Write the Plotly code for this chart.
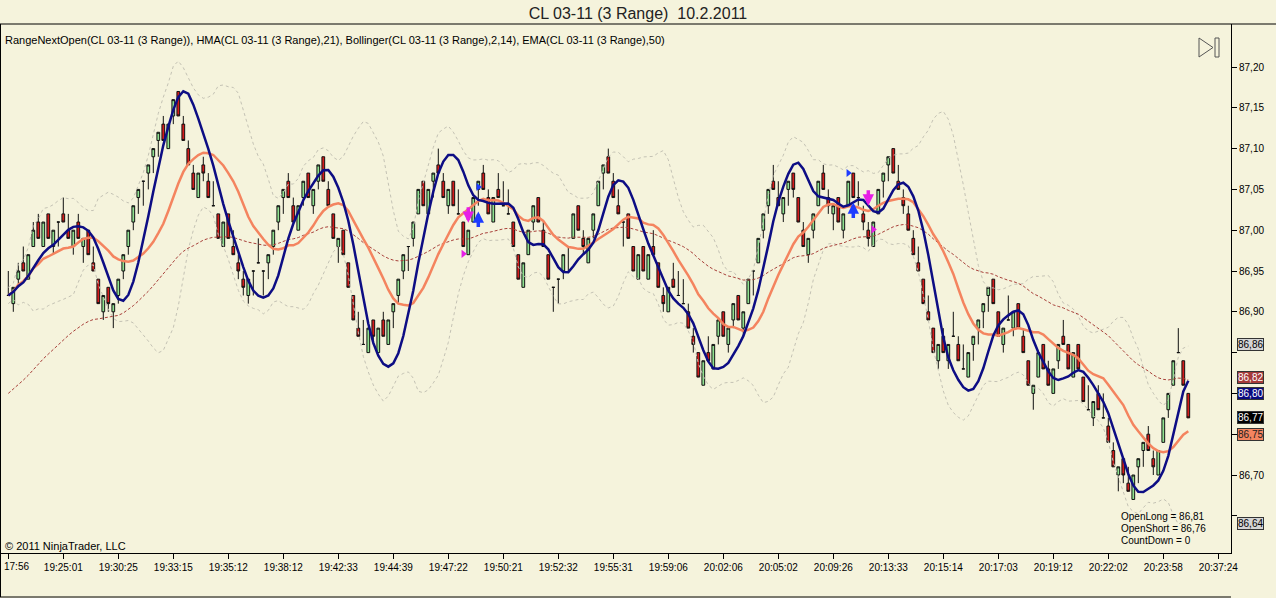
import numpy as np
import pandas as pd
import plotly.graph_objects as go

# Range bars (3 ticks), one value per bar, left to right
opens = [
    86.92, 86.91, 86.94, 86.96, 86.94, 86.98, 87.01, 86.98, 87.02, 86.98,
    87.01, 87.02, 87.00, 86.98, 87.01, 86.98, 87.00, 86.96, 86.94, 86.90,
    86.93, 86.90, 86.92, 86.95, 86.98, 87.01, 87.04, 87.06, 87.07, 87.09,
    87.11, 87.13, 87.10, 87.14, 87.17, 87.13, 87.10, 87.07, 87.04, 87.08,
    87.06, 87.03, 87.02, 86.98, 87.02, 86.98, 86.96, 86.94, 86.92, 86.95,
    86.96, 86.95, 86.96, 86.98, 87.01, 87.04, 87.06, 87.03, 87.00, 87.04,
    87.07, 87.03, 87.06, 87.09, 87.05, 87.02, 86.98, 87.00, 86.96, 86.92,
    86.88, 86.86, 86.85, 86.89, 86.85, 86.89, 86.86, 86.90, 86.92, 86.95,
    86.98, 86.99, 87.02, 87.06, 87.02, 87.06, 87.08, 87.06, 87.03, 87.06,
    87.02, 87.01, 86.97, 87.01, 87.05, 87.07, 87.04, 87.01, 87.05, 87.03,
    87.02, 87.01, 86.97, 86.93, 86.97, 87.01, 87.04, 87.00, 86.97, 86.93,
    86.94, 86.95, 86.98, 86.99, 87.03, 86.99, 86.96, 87.00, 87.03, 87.07,
    87.09, 87.06, 87.03, 87.01, 87.02, 86.98, 86.94, 86.98, 86.94, 86.98,
    86.96, 86.92, 86.90, 86.94, 86.92, 86.91, 86.90, 86.87, 86.85, 86.81,
    86.85, 86.83, 86.87, 86.90, 86.86, 86.89, 86.92, 86.88, 86.91, 86.95,
    86.96, 87.00, 87.03, 87.06, 87.04, 87.02, 87.05, 87.07, 87.04, 87.00,
    86.97, 87.00, 87.03, 87.07, 87.04, 87.02, 87.04, 87.00, 87.03, 87.07,
    87.04, 87.02, 87.00, 86.98, 87.02, 87.06, 87.08, 87.10, 87.06, 87.04,
    87.02, 86.99, 86.96, 86.94, 86.90, 86.88, 86.84, 86.87, 86.84, 86.87,
    86.86, 86.83, 86.82, 86.86, 86.88, 86.90, 86.92, 86.94, 86.90, 86.86,
    86.89, 86.88, 86.91, 86.87, 86.84, 86.80, 86.82, 86.86, 86.83, 86.80,
    86.84, 86.87, 86.86, 86.82, 86.86, 86.82, 86.78, 86.77, 86.80, 86.77,
    86.76, 86.73, 86.70, 86.72, 86.69, 86.67, 86.71, 86.73, 86.75, 86.72,
    86.70, 86.74, 86.78, 86.81, 86.85, 86.84, 86.80,
]
highs = [
    86.95, 86.93, 86.96, 86.98, 86.97, 87.01, 87.02, 87.01, 87.02, 87.00,
    87.01, 87.04, 87.02, 87.00, 87.02, 86.99, 87.00, 86.98, 86.94, 86.92,
    86.93, 86.91, 86.94, 86.97, 87.00, 87.03, 87.05, 87.06, 87.08, 87.10,
    87.12, 87.14, 87.13, 87.16, 87.17, 87.14, 87.11, 87.08, 87.07, 87.09,
    87.07, 87.06, 87.02, 87.01, 87.02, 87.00, 86.97, 86.95, 86.94, 86.95,
    86.99, 86.95, 86.97, 87.00, 87.03, 87.05, 87.07, 87.04, 87.03, 87.06,
    87.07, 87.05, 87.08, 87.09, 87.06, 87.02, 86.99, 87.00, 86.96, 86.92,
    86.90, 86.89, 86.88, 86.89, 86.88, 86.90, 86.89, 86.91, 86.94, 86.97,
    86.98, 87.01, 87.05, 87.06, 87.05, 87.07, 87.10, 87.07, 87.05, 87.06,
    87.05, 87.01, 87.00, 87.04, 87.06, 87.08, 87.05, 87.04, 87.07, 87.06,
    87.05, 87.01, 86.97, 86.96, 87.00, 87.03, 87.04, 87.01, 86.97, 86.93,
    86.94, 86.97, 86.98, 87.02, 87.03, 87.00, 86.99, 87.02, 87.06, 87.08,
    87.10, 87.07, 87.05, 87.01, 87.02, 86.98, 86.97, 86.98, 86.97, 87.00,
    86.96, 86.93, 86.93, 86.96, 86.95, 86.94, 86.91, 86.88, 86.85, 86.84,
    86.87, 86.86, 86.89, 86.90, 86.88, 86.91, 86.92, 86.90, 86.94, 86.95,
    86.99, 87.02, 87.05, 87.08, 87.06, 87.04, 87.06, 87.07, 87.04, 87.01,
    86.99, 87.02, 87.06, 87.08, 87.05, 87.03, 87.04, 87.02, 87.06, 87.07,
    87.06, 87.03, 87.01, 87.01, 87.05, 87.07, 87.09, 87.10, 87.08, 87.05,
    87.03, 87.00, 86.98, 86.94, 86.92, 86.88, 86.86, 86.88, 86.86, 86.90,
    86.87, 86.86, 86.85, 86.87, 86.89, 86.91, 86.93, 86.94, 86.90, 86.88,
    86.92, 86.90, 86.91, 86.88, 86.84, 86.81, 86.85, 86.86, 86.84, 86.83,
    86.86, 86.89, 86.86, 86.85, 86.86, 86.82, 86.81, 86.79, 86.81, 86.80,
    86.77, 86.74, 86.71, 86.72, 86.71, 86.70, 86.72, 86.74, 86.76, 86.73,
    86.73, 86.77, 86.80, 86.84, 86.88, 86.84, 86.80,
]
lows = [
    86.92, 86.90, 86.93, 86.95, 86.94, 86.98, 86.99, 86.98, 86.99, 86.97,
    86.98, 87.01, 86.99, 86.97, 86.99, 86.96, 86.97, 86.95, 86.91, 86.89,
    86.90, 86.88, 86.91, 86.94, 86.97, 87.00, 87.02, 87.03, 87.05, 87.07,
    87.09, 87.11, 87.10, 87.13, 87.14, 87.11, 87.08, 87.05, 87.04, 87.06,
    87.04, 87.03, 86.99, 86.98, 86.99, 86.97, 86.94, 86.92, 86.91, 86.92,
    86.96, 86.92, 86.94, 86.97, 87.00, 87.02, 87.04, 87.01, 87.00, 87.03,
    87.04, 87.02, 87.05, 87.06, 87.03, 86.99, 86.96, 86.97, 86.93, 86.89,
    86.87, 86.86, 86.85, 86.86, 86.85, 86.87, 86.86, 86.88, 86.91, 86.94,
    86.95, 86.98, 87.02, 87.03, 87.02, 87.04, 87.07, 87.04, 87.02, 87.03,
    87.02, 86.98, 86.97, 87.01, 87.03, 87.05, 87.02, 87.01, 87.04, 87.03,
    87.02, 86.98, 86.94, 86.93, 86.97, 87.00, 87.01, 86.98, 86.94, 86.90,
    86.91, 86.94, 86.95, 86.99, 87.00, 86.97, 86.96, 86.99, 87.03, 87.05,
    87.07, 87.04, 87.02, 86.98, 86.99, 86.95, 86.94, 86.95, 86.94, 86.97,
    86.93, 86.90, 86.90, 86.93, 86.92, 86.91, 86.88, 86.85, 86.82, 86.81,
    86.84, 86.83, 86.86, 86.87, 86.85, 86.88, 86.89, 86.87, 86.91, 86.92,
    86.96, 86.99, 87.02, 87.05, 87.03, 87.01, 87.03, 87.04, 87.01, 86.98,
    86.96, 86.99, 87.03, 87.05, 87.02, 87.00, 87.01, 86.99, 87.03, 87.04,
    87.03, 87.00, 86.98, 86.98, 87.02, 87.04, 87.06, 87.07, 87.05, 87.02,
    87.00, 86.97, 86.95, 86.91, 86.89, 86.85, 86.83, 86.85, 86.83, 86.87,
    86.84, 86.83, 86.82, 86.84, 86.86, 86.88, 86.90, 86.91, 86.87, 86.85,
    86.89, 86.87, 86.88, 86.85, 86.81, 86.78, 86.82, 86.83, 86.81, 86.80,
    86.83, 86.86, 86.83, 86.82, 86.83, 86.79, 86.78, 86.76, 86.78, 86.77,
    86.74, 86.71, 86.68, 86.69, 86.68, 86.67, 86.69, 86.71, 86.73, 86.70,
    86.70, 86.74, 86.77, 86.81, 86.85, 86.81, 86.77,
]
closes = [
    86.92, 86.93, 86.95, 86.95, 86.97, 87.00, 86.99, 87.01, 86.99, 87.00,
    87.01, 87.01, 86.99, 87.00, 86.99, 86.99, 86.97, 86.95, 86.91, 86.92,
    86.91, 86.91, 86.94, 86.97, 87.00, 87.03, 87.05, 87.06, 87.08, 87.10,
    87.12, 87.11, 87.13, 87.16, 87.14, 87.11, 87.08, 87.05, 87.07, 87.07,
    87.04, 87.03, 86.99, 87.01, 86.99, 86.97, 86.95, 86.93, 86.94, 86.95,
    86.96, 86.95, 86.97, 87.00, 87.03, 87.05, 87.04, 87.01, 87.03, 87.06,
    87.04, 87.05, 87.08, 87.06, 87.03, 86.99, 86.99, 86.97, 86.93, 86.89,
    86.87, 86.86, 86.88, 86.87, 86.88, 86.87, 86.89, 86.91, 86.94, 86.97,
    86.98, 87.01, 87.05, 87.03, 87.05, 87.07, 87.07, 87.04, 87.05, 87.03,
    87.02, 86.98, 87.00, 87.04, 87.06, 87.05, 87.02, 87.04, 87.04, 87.03,
    87.02, 86.98, 86.94, 86.96, 87.00, 87.03, 87.01, 86.98, 86.94, 86.93,
    86.94, 86.97, 86.98, 87.02, 87.00, 86.98, 86.99, 87.02, 87.06, 87.08,
    87.07, 87.04, 87.02, 87.01, 86.99, 86.95, 86.97, 86.95, 86.97, 86.97,
    86.93, 86.91, 86.93, 86.93, 86.92, 86.91, 86.88, 86.86, 86.82, 86.84,
    86.84, 86.86, 86.89, 86.87, 86.88, 86.91, 86.89, 86.90, 86.94, 86.95,
    86.99, 87.02, 87.05, 87.05, 87.03, 87.04, 87.06, 87.05, 87.01, 86.98,
    86.99, 87.02, 87.06, 87.05, 87.03, 87.03, 87.01, 87.02, 87.06, 87.04,
    87.04, 87.01, 86.99, 87.01, 87.05, 87.07, 87.09, 87.07, 87.05, 87.03,
    87.00, 86.97, 86.95, 86.91, 86.89, 86.85, 86.86, 86.85, 86.86, 86.87,
    86.84, 86.83, 86.85, 86.87, 86.89, 86.91, 86.93, 86.91, 86.87, 86.88,
    86.89, 86.90, 86.88, 86.85, 86.81, 86.81, 86.85, 86.83, 86.81, 86.83,
    86.86, 86.86, 86.83, 86.85, 86.83, 86.79, 86.78, 86.79, 86.78, 86.77,
    86.74, 86.71, 86.71, 86.70, 86.68, 86.70, 86.72, 86.74, 86.73, 86.71,
    86.73, 86.77, 86.80, 86.84, 86.85, 86.81, 86.77,
]

# bar-time labels, one every 11 bars
tick_labels = [
    "17:56", "19:25:01", "19:30:25", "19:33:15", "19:35:12", "19:38:12",
    "19:42:33", "19:44:39", "19:47:22", "19:50:21", "19:52:32", "19:55:31",
    "19:59:06", "20:02:06", "20:05:02", "20:09:26", "20:13:33", "20:15:14",
    "20:17:03", "20:19:12", "20:22:02", "20:23:58", "20:37:24",
]
y_ticks = [86.65, 86.70, 86.75, 86.80, 86.85, 86.90, 86.95, 87.00, 87.05, 87.10, 87.15, 87.20]

# RangeNextOpen signals
long_arrow_bars = [94, 169]
long_arrow_tips = [87.023, 87.034]
short_arrow_bars = [92, 172]
short_arrow_tips = [87.009, 87.030]
long_mark_bars = [94, 168]
long_mark_prices = [87.053, 87.070]
short_mark_bars = [91, 173]
short_mark_prices = [86.971, 87.001]

# last-value flags on the price axis
flag_values = [86.86, 86.82, 86.80, 86.77, 86.75, 86.64]
flag_fill = ["#d4d4d4", "#a53a3a", "#0a0a80", "#000000", "#f4845f", "#d4d4d4"]
flag_font = ["black", "white", "white", "white", "#202020", "black"]

ema_start = 86.80   # EMA(50) level at the first bar

# ---- indicators ---------------------------------------------------------
def wma(vals, n):
    vals = np.asarray(vals, dtype=float)
    out = np.empty(len(vals))
    for i in range(len(vals)):
        k = min(i + 1, n)
        w = np.arange(1, k + 1)
        out[i] = np.dot(vals[i - k + 1:i + 1], w) / w.sum()
    return out

c = np.array(closes)
s = pd.Series(c)
bb_mid = s.rolling(14, min_periods=1).mean()
bb_sd = s.rolling(14, min_periods=2).std(ddof=0).bfill()
bb_up = bb_mid + 2 * bb_sd
bb_lo = bb_mid - 2 * bb_sd

hma = wma(2 * wma(c, 10) - wma(c, 21), 4)

ema = np.empty(len(c))
prev = ema_start
k = 2 / 51
for i, v in enumerate(c):
    if i > 0:
        prev = prev + k * (v - prev)
    ema[i] = prev

bars = np.arange(len(closes))

# ---- geometry (pixels of the 1276x598 page) -----------------------------
W, H = 1276, 598
PL, PR, PT, PB = 1, 1231, 24, 553
BAR0, BAR_W = 8.3, 5.0            # pixel of bar 0, pixels per bar
PX_PER_PRICE = 816.0
Y_TOP = 87.20 + (67 - PT) / PX_PER_PRICE

def px(x):
    return (x - PL) / (PR - PL)

def py(y):
    return (PB - y) / (PB - PT)

x_range = [(PL - BAR0) / BAR_W, (PR - BAR0) / BAR_W]
y_range = [Y_TOP - (PB - PT) / PX_PER_PRICE, Y_TOP]

FONT = "Arial, Liberation Sans, sans-serif"
BG = "#f5f3dc"

fig = go.Figure()

for band in (bb_up, bb_lo):
    fig.add_trace(go.Scatter(x=bars, y=band, mode="lines", hoverinfo="skip",
                             line=dict(color="#c4c2b4", width=1, dash="dot")))

fig.add_trace(go.Scatter(x=bars, y=ema, mode="lines", hoverinfo="skip",
                         line=dict(color="#a8403a", width=1, dash="3px,2px")))

fig.add_trace(go.Candlestick(
    x=bars, open=opens, high=highs, low=lows, close=closes,
    increasing=dict(fillcolor="#90e290", line=dict(color="#111111", width=1)),
    decreasing=dict(fillcolor="#d41c1c", line=dict(color="#111111", width=1)),
    whiskerwidth=0,
))

fig.add_trace(go.Scatter(x=bars, y=bb_mid, mode="lines", hoverinfo="skip",
                         line=dict(color="#f4845f", width=2.5)))
fig.add_trace(go.Scatter(x=bars, y=hma, mode="lines", hoverinfo="skip",
                         line=dict(color="#0d0d84", width=2.5)))

fig.add_trace(go.Scatter(x=long_mark_bars, y=long_mark_prices, mode="markers", hoverinfo="skip",
                         marker=dict(symbol="triangle-right", size=7, color="#1e3cff")))
fig.add_trace(go.Scatter(x=short_mark_bars, y=short_mark_prices, mode="markers", hoverinfo="skip",
                         marker=dict(symbol="triangle-right", size=7, color="#e61ee6")))

annotations = []
for b, p in zip(long_arrow_bars, long_arrow_tips):
    annotations.append(dict(x=b, y=p, xref="x", yref="y", text="", showarrow=True,
                            ax=0, ay=17, arrowhead=2, arrowsize=0.65, arrowwidth=3.5,
                            arrowcolor="#1e3cff"))
for b, p in zip(short_arrow_bars, short_arrow_tips):
    annotations.append(dict(x=b, y=p, xref="x", yref="y", text="", showarrow=True,
                            ax=0, ay=-17, arrowhead=2, arrowsize=0.65, arrowwidth=3.5,
                            arrowcolor="#e61ee6"))

# flags: pointer + box
flag_x = (PR + 5 - BAR0) / BAR_W
fig.add_trace(go.Scatter(x=[flag_x] * len(flag_values), y=flag_values, mode="markers",
                         cliponaxis=False, hoverinfo="skip",
                         marker=dict(symbol="triangle-left", size=11, color=flag_fill,
                                     line=dict(color="#333333", width=1))))
for v, fc, tc in zip(flag_values, flag_fill, flag_font):
    annotations.append(dict(x=1, y=v, xref="paper", yref="y", xanchor="left", yanchor="middle",
                            xshift=6, text=f"{v:.2f}".replace(".", ","), showarrow=False,
                            bgcolor=fc, bordercolor="#333333", borderwidth=1, borderpad=0,
                            font=dict(family=FONT, size=10, color=tc)))

indicator_text = ("RangeNextOpen(CL 03-11 (3 Range)), HMA(CL 03-11 (3 Range),21), "
                  "Bollinger(CL 03-11 (3 Range),2,14), EMA(CL 03-11 (3 Range),50)")
annotations.append(dict(x=px(3), y=py(40), xref="paper", yref="paper", xanchor="left",
                        yanchor="middle", text=indicator_text, showarrow=False,
                        font=dict(family=FONT, size=11, color="black")))
annotations.append(dict(x=px(3), y=py(546), xref="paper", yref="paper", xanchor="left",
                        yanchor="middle", text="© 2011 NinjaTrader, LLC", showarrow=False,
                        font=dict(family=FONT, size=11, color="black")))
annotations.append(dict(x=px(2), y=py(566), xref="paper", yref="paper", xanchor="left",
                        yanchor="middle", text=tick_labels[0], showarrow=False,
                        font=dict(family=FONT, size=10, color="black")))

open_long = highs[-1] + 0.01
open_short = lows[-1] - 0.01
status_lines = [f"OpenLong = {open_long:.2f}".replace(".", ","),
                f"OpenShort = {open_short:.2f}".replace(".", ","),
                "CountDown = 0"]
for i, line in enumerate(status_lines):
    annotations.append(dict(x=px(1119), y=py(516 + 12 * i), xref="paper", yref="paper",
                            xanchor="left", yanchor="middle", text=line, showarrow=False,
                            font=dict(family=FONT, size=10, color="black")))

shapes = [
    # frame lines
    dict(type="line", xref="paper", yref="paper", x0=px(0), x1=px(W), y0=py(PT), y1=py(PT),
         line=dict(color="black", width=1)),
    dict(type="line", xref="paper", yref="paper", x0=px(0.5), x1=px(0.5), y0=py(PT), y1=py(597),
         line=dict(color="black", width=1)),
    dict(type="line", xref="paper", yref="paper", x0=px(0), x1=px(PR), y0=py(597), y1=py(597),
         line=dict(color="black", width=1)),
    # "scroll to end" button
    dict(type="path", xref="paper", yref="paper",
         path=f"M {px(1199)} {py(38)} L {px(1199)} {py(57)} L {px(1213)} {py(47.5)} Z",
         line=dict(color="#555555", width=1)),
    dict(type="rect", xref="paper", yref="paper", x0=px(1215), x1=px(1219), y0=py(57), y1=py(38),
         line=dict(color="#555555", width=1)),
]

tick_vals = list(range(0, 11 * len(tick_labels), 11))
tick_text = [""] + tick_labels[1:]
# price labels hidden behind the flags
y_text = ["" if min(abs(t - f) for f in flag_values) < 0.015 else f"{t:.2f}".replace(".", ",")
          for t in y_ticks]

fig.update_layout(
    width=W, height=H,
    margin=dict(l=PL, r=W - PR, t=PT, b=H - PB),
    paper_bgcolor=BG, plot_bgcolor=BG,
    showlegend=False,
    boxgap=0.22,
    font=dict(family=FONT, size=11, color="black"),
    title=dict(text="CL 03-11 (3 Range)  10.2.2011", x=0.5, xanchor="center",
               y=1 - 13 / H, yanchor="middle", yref="container",
               font=dict(family=FONT, size=16, color="#222222")),
    xaxis=dict(range=x_range, tickvals=tick_vals, ticktext=tick_text,
               showgrid=False, zeroline=False, showline=True, linecolor="black",
               linewidth=1, ticks="outside", ticklen=5, tickcolor="black",
               rangeslider=dict(visible=False), fixedrange=True,
               tickfont=dict(family=FONT, size=10)),
    yaxis=dict(range=y_range, side="right", tickvals=y_ticks, ticktext=y_text,
               showgrid=False, zeroline=False, showline=True, linecolor="black",
               linewidth=1, ticks="outside", ticklen=5, tickcolor="black",
               fixedrange=True, tickfont=dict(family=FONT, size=10)),
    annotations=annotations,
    shapes=shapes,
)

# page body has a default margin; drop it so the figure sits at the window corner
fig.write_html("out.html", config={"displayModeBar": False},
               post_script="document.body.style.margin='0';")
